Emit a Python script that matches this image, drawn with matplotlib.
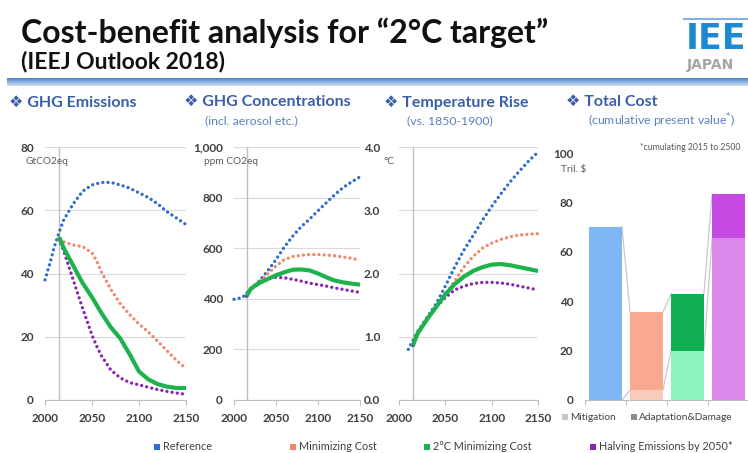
import matplotlib

matplotlib.use("Agg")
import matplotlib.pyplot as plt
import numpy as np
from matplotlib.patches import Rectangle
from matplotlib.ticker import FuncFormatter

plt.rcParams["font.family"] = ["Lato", "DejaVu Sans"]

W, H = 748, 453

# --- values ---
SCEN_NAMES = ["Reference", "Minimizing Cost", "2\u00b0C Minimizing Cost", "Halving Emissions by 2050*"]
SCEN_COLORS = ["#2F6CCB", "#F2876B", "#1DB24C", "#8A24B0"]

# GHG emissions, GtCO2eq
emis_years_ref = [2000, 2005, 2010, 2015, 2020, 2030, 2040, 2050, 2060, 2070, 2080, 2090, 2100, 2110, 2120, 2130, 2140, 2150]
emis_ref = [38, 43, 48.5, 53, 57, 62, 66, 68, 68.8, 68.8, 68, 67, 65.5, 64, 62, 59.5, 57.5, 55.5]
emis_years = [2015, 2020, 2030, 2040, 2050, 2055, 2060, 2070, 2080, 2090, 2100, 2110, 2120, 2130, 2140, 2150]
emis_mincost = [50.5, 50, 49, 48.5, 46.5, 44, 40.5, 35, 30.5, 27, 24, 21.5, 18.5, 15.5, 12.5, 10]
emis_2deg = [51.5, 48, 42.5, 37, 32.5, 30, 27.5, 23, 19.5, 14.5, 9, 6.5, 5, 4.2, 3.8, 3.8]
emis_halving = [51, 47, 38, 29, 20.5, 17, 14, 9.5, 7, 5.5, 4.8, 4, 3.3, 2.7, 2.2, 1.8]

# GHG concentrations, ppm CO2eq
conc_years_ref = [2000, 2010, 2020, 2030, 2040, 2050, 2060, 2070, 2080, 2090, 2100, 2110, 2120, 2130, 2140, 2150]
conc_ref = [398, 405, 440, 470, 510, 555, 605, 648, 685, 715, 748, 780, 812, 840, 862, 882]
conc_years = [2015, 2020, 2030, 2040, 2050, 2060, 2070, 2080, 2090, 2100, 2110, 2120, 2130, 2140, 2150]
conc_mincost = [410, 440, 468, 498, 530, 555, 567, 572, 575, 575, 573, 570, 565, 560, 553]
conc_2deg = [410, 440, 462, 478, 493, 505, 515, 516, 512, 500, 485, 472, 465, 460, 456]
conc_halving = [410, 440, 465, 480, 485, 483, 477, 470, 462, 456, 450, 443, 437, 431, 425]

# Temperature rise vs 1850-1900, deg C
temp_years_ref = [2010, 2020, 2030, 2040, 2050, 2060, 2070, 2080, 2090, 2100, 2110, 2120, 2130, 2140, 2150]
temp_ref = [0.8, 1.08, 1.3, 1.52, 1.8, 2.1, 2.37, 2.6, 2.84, 3.06, 3.26, 3.45, 3.62, 3.78, 3.92]
temp_years = [2015, 2020, 2030, 2040, 2050, 2060, 2070, 2080, 2090, 2100, 2110, 2120, 2130, 2140, 2150]
temp_mincost = [0.88, 1.05, 1.28, 1.48, 1.66, 1.88, 2.1, 2.27, 2.4, 2.48, 2.54, 2.58, 2.61, 2.62, 2.63]
temp_2deg = [0.86, 1.05, 1.27, 1.47, 1.67, 1.83, 1.95, 2.04, 2.1, 2.14, 2.15, 2.13, 2.1, 2.07, 2.04]
temp_halving = [0.86, 1.05, 1.27, 1.47, 1.62, 1.74, 1.8, 1.84, 1.86, 1.86, 1.85, 1.83, 1.8, 1.77, 1.74]

# Total cost, Tril. $ (cumulative present value 2015-2500)
cost_mitigation = [0, 4, 20, 65.5]
cost_damage = [70.2, 31.5, 23, 18]
COST_MIT_COLORS = ["#BBD8FA", "#FACBBB", "#8DF3BC", "#DA88EA"]
COST_DAM_COLORS = ["#7EB6F6", "#F8A98F", "#10B052", "#C64BE2"]

GRID = "#D9D9D9"
AXIS = "#BFBFBF"
TICK_TXT = "#404040"
HEAD = "#3A5FA8"
SUBHEAD = "#5A80C0"


def px_axes(fig, x0, x1, y_top, y_bot):
    return fig.add_axes([x0 / W, 1 - y_bot / H, (x1 - x0) / W, (y_bot - y_top) / H])


def ftext(fig, x, y, s, **kw):
    kw.setdefault("va", "center")
    return fig.text(x / W, 1 - y / H, s, **kw)


def fsquare(fig, x, y, color, size=6):
    fig.add_artist(Rectangle((x / W, 1 - (y + size / 2) / H), size / W, size / H,
                             transform=fig.transFigure, color=color, lw=0))


def dotted(ax, x, y, color):
    ax.plot(x, y, color=color, lw=2.4, linestyle=(0, (0.01, 1.55)),
            dash_capstyle="round", clip_on=False)


def style_line_axes(ax, ylim, yticks, fmt, pad):
    ax.set_xlim(2000, 2150)
    ax.set_ylim(*ylim)
    ax.set_yticks(yticks)
    ax.yaxis.set_major_formatter(FuncFormatter(fmt))
    ax.set_xticks([2000, 2050, 2100, 2150])
    for s in ["top", "right", "left"]:
        ax.spines[s].set_visible(False)
    ax.spines["bottom"].set_color(AXIS)
    ax.grid(axis="y", color=GRID, lw=0.8)
    ax.set_axisbelow(True)
    ax.axvline(2015, color=AXIS, lw=1.0, zorder=1)
    ax.tick_params(axis="y", length=0, pad=pad, labelsize=8.5, labelcolor=TICK_TXT)
    ax.tick_params(axis="x", length=3.5, color=AXIS, pad=6, labelsize=8.5, labelcolor=TICK_TXT)
    for lab in ax.get_xticklabels() + ax.get_yticklabels():
        lab.set_fontweight("bold")
    ax.patch.set_alpha(0)


fig = plt.figure(figsize=(W / 100, H / 100), dpi=100)

# --- header ---
ftext(fig, 21, 33, "Cost-benefit analysis for \u201c2\u00b0C target\u201d", fontsize=23,
      fontweight="bold", color="#111111")
ftext(fig, 21, 62, "(IEEJ Outlook 2018)", fontsize=16.5, fontweight="bold", color="#111111")

band = fig.add_axes([7 / W, 1 - 86 / H, (W - 7) / W, 8 / H])
grad = np.linspace(0, 1, 50).reshape(-1, 1) * np.ones((1, 200))
band.imshow(grad, aspect="auto", cmap=matplotlib.colors.LinearSegmentedColormap.from_list(
    "band", ["#4C7FC9", "#8DB1E2", "#D3E0F2"]))
band.axis("off")

fig.add_artist(plt.Line2D([684 / W, 1], [1 - 19 / H, 1 - 19 / H], color="#7FB2E5", lw=1.5))
ftext(fig, 686, 39, "IEE", fontsize=25, fontweight="black", color="#1B8AD3", family="DejaVu Sans")
ftext(fig, 687, 65, "JAPAN", fontsize=10, fontweight="bold", color="#A5A5A5", family="DejaVu Sans")

# --- panel headers ---
ftext(fig, 9, 103, "\u2756 GHG Emissions", fontsize=11.5, fontweight="bold", color=HEAD)
ftext(fig, 184, 102, "\u2756 GHG Concentrations", fontsize=11.5, fontweight="bold", color=HEAD)
ftext(fig, 205, 121, "(incl. aerosol etc.)", fontsize=8.8, color=SUBHEAD)
ftext(fig, 384, 103, "\u2756 Temperature Rise", fontsize=11.5, fontweight="bold", color=HEAD)
ftext(fig, 407, 121, "(vs. 1850-1900)", fontsize=8.8, color=SUBHEAD)
ftext(fig, 566, 102, "\u2756 Total Cost", fontsize=11.5, fontweight="bold", color=HEAD)
ftext(fig, 588, 121, "(cumulative present value$^{*}$)", fontsize=8.8, color=SUBHEAD)

# --- panel 1: emissions ---
ax1 = px_axes(fig, 45, 186, 147, 400)
style_line_axes(ax1, (0, 80), [0, 20, 40, 60, 80], lambda v, p: f"{v:.0f}", 8)
dotted(ax1, emis_years_ref, emis_ref, SCEN_COLORS[0])
dotted(ax1, emis_years, emis_mincost, SCEN_COLORS[1])
dotted(ax1, emis_years, emis_halving, SCEN_COLORS[3])
ax1.plot(emis_years, emis_2deg, color=SCEN_COLORS[2], lw=3.0, solid_capstyle="butt")
ftext(fig, 26, 161, "GtCO2eq", fontsize=7.3, color="#595959")

# --- panel 2: concentrations ---
ax2 = px_axes(fig, 234, 360, 147, 400)
style_line_axes(ax2, (0, 1000), [0, 200, 400, 600, 800, 1000], lambda v, p: f"{v:,.0f}", 8)
dotted(ax2, conc_years_ref, conc_ref, SCEN_COLORS[0])
dotted(ax2, conc_years, conc_mincost, SCEN_COLORS[1])
dotted(ax2, conc_years, conc_halving, SCEN_COLORS[3])
ax2.plot(conc_years, conc_2deg, color=SCEN_COLORS[2], lw=3.0, solid_capstyle="butt")
ftext(fig, 204, 161, "ppm CO2eq", fontsize=7.3, color="#595959")

# --- panel 3: temperature ---
ax3 = px_axes(fig, 399, 538, 147, 400)
style_line_axes(ax3, (0, 4), [0, 1, 2, 3, 4], lambda v, p: f"{v:.1f}", 13.5)
dotted(ax3, temp_years_ref, temp_ref, SCEN_COLORS[0])
dotted(ax3, temp_years, temp_mincost, SCEN_COLORS[1])
dotted(ax3, temp_years, temp_halving, SCEN_COLORS[3])
ax3.plot(temp_years, temp_2deg, color=SCEN_COLORS[2], lw=3.0, solid_capstyle="butt")
ftext(fig, 383, 161, "\u00b0C", fontsize=7.3, color="#595959")

# --- panel 4: total cost ---
ax4 = px_axes(fig, 585, 749, 153, 400)
xb = np.arange(len(cost_damage))
bw = 0.8
ax4.bar(xb, cost_mitigation, width=bw, color=COST_MIT_COLORS, zorder=2)
ax4.bar(xb, cost_damage, width=bw, bottom=cost_mitigation, color=COST_DAM_COLORS, zorder=2)
tot = np.array(cost_mitigation) + np.array(cost_damage)
for i in range(len(xb) - 1):
    ax4.plot([xb[i] + bw / 2, xb[i + 1] - bw / 2], [tot[i], tot[i + 1]], color="#C8C8C8", lw=0.9, zorder=1)
    ax4.plot([xb[i] + bw / 2, xb[i + 1] - bw / 2], [cost_mitigation[i], cost_mitigation[i + 1]],
             color="#C8C8C8", lw=0.9, zorder=1)
ax4.set_xlim(-0.5, 3.5)
ax4.set_ylim(0, 100)
ax4.set_yticks([0, 20, 40, 60, 80, 100])
ax4.set_xticks([-0.5, 0.5, 1.5, 2.5, 3.5])
ax4.set_xticklabels([])
for s in ["top", "right", "left"]:
    ax4.spines[s].set_visible(False)
ax4.spines["bottom"].set_color(AXIS)
ax4.tick_params(axis="y", length=0, pad=8.5, labelsize=8.5, labelcolor=TICK_TXT)
ax4.tick_params(axis="x", length=3.5, color=AXIS)
for lab in ax4.get_yticklabels():
    lab.set_fontweight("bold")
ax4.patch.set_alpha(0)
ftext(fig, 561, 170, "Tril. $", fontsize=7.3, color="#595959")
ftext(fig, 740, 147, "*cumulating 2015 to 2500", fontsize=6.2, color="#595959", ha="right")

# cost legend
fsquare(fig, 562, 417, "#C8C8C8")
ftext(fig, 570, 417, "Mitigation", fontsize=7.3, color="#404040")
fsquare(fig, 631, 417, "#8C8C8C")
ftext(fig, 639, 417, "Adaptation&Damage", fontsize=7.3, color="#404040")

# scenario legend
leg_x = [154, 290, 424, 590]
for xx, name, c in zip(leg_x, SCEN_NAMES, SCEN_COLORS):
    fsquare(fig, xx, 447, c)
    ftext(fig, xx + 9, 447, name, fontsize=7.8, color="#404040")

fig.savefig("out.png", dpi=100)
